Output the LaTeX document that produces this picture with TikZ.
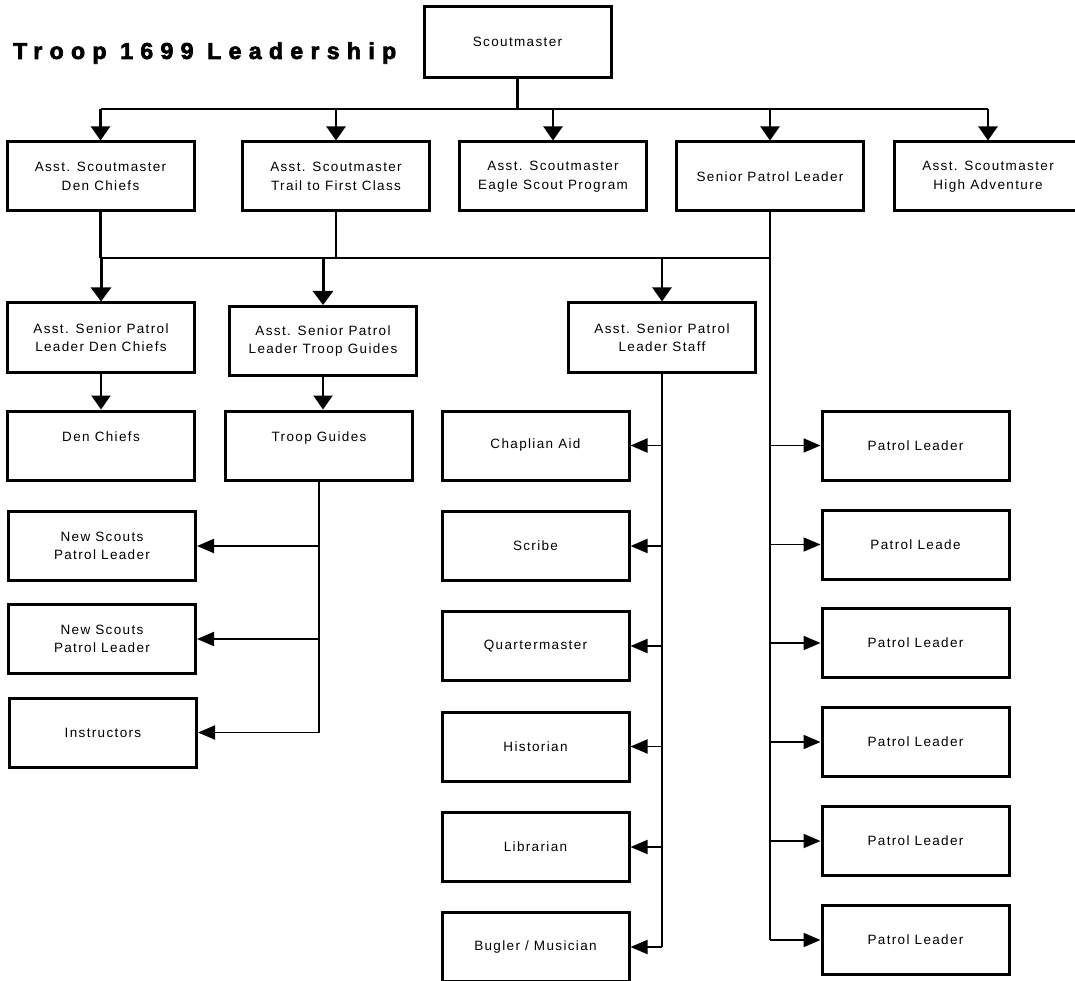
\documentclass[tikz,border=0pt]{standalone}
\usepackage{fontspec}
\setmainfont{Liberation Sans}
\usetikzlibrary{arrows.meta}
\newfontfamily\boxfont[LetterSpace=10]{Liberation Sans}
\newfontfamily\titlefont[LetterSpace=32,BoldFeatures={FakeBold=3}]{Liberation Sans}
\tikzset{
  box/.style={draw=black, line width=3pt, fill=white, minimum width=187pt, minimum height=69pt,
    align=center, inner sep=2pt, font=\boxfont\fontsize{13.5}{18.5}\selectfont},
  conn/.style={draw=black, line width=2.2pt},
  heavy conn/.style={draw=black, line width=2.8pt},
  varr/.style={draw=black, line width=3pt, -{Triangle[length=14pt,width=20pt]}},
  varrthin/.style={draw=black, line width=2.2pt, -{Triangle[length=14pt,width=19pt]}},
  harr/.style={draw=black, line width=1.9pt, -{Triangle[length=17pt,width=14pt]}}
}
\begin{document}
\begin{tikzpicture}[x=1pt,y=-1pt]
\useasboundingbox (0,0) rectangle (1075,981);
\fill[white] (0,0) rectangle (1075,981);

% title
\node[anchor=west, inner sep=0pt, font=\titlefont\bfseries\fontsize{23}{25}\selectfont] (title) at (13,53) {Troop 1699 Leadership};

% top
\node[box, minimum height=71pt] (sm) at (517.5,42) {Scoutmaster};

% row 1
\node[box] (a1) at (100.5,176.5) {Asst. Scoutmaster\\Den Chiefs};
\node[box] (a2) at (336,176.5) {Asst. Scoutmaster\\Trail to First Class};
\node[box] (a3) at (553,176.5) {Asst. Scoutmaster\\Eagle Scout Program};
\node[box] (a4) at (770,176.5) {Senior Patrol Leader};
\node[box] (a5) at (988,176.5) {Asst. Scoutmaster\\High Adventure};

% row 2
\node[box] (b1) at (101,337.5) {Asst. Senior Patrol\\Leader Den Chiefs};
\node[box] (b2) at (323,341) {Asst. Senior Patrol\\Leader Troop Guides};
\node[box] (b3) at (662,337.5) {Asst. Senior Patrol\\Leader Staff};

% row 3
\node[box] (c1) at (101,445.5) {Den Chiefs\\~};
\node[box] (c2) at (319,445.5) {Troop Guides\\~};

% troop guides column
\node[box] (n1) at (102,546) {New Scouts\\Patrol Leader};
\node[box] (n2) at (102,639) {New Scouts\\Patrol Leader};
\node[box] (n3) at (103,732.5) {Instructors};

% staff column
\node[box] (l1) at (535.5,445.5) {Chaplian Aid};
\node[box] (l2) at (535.5,546) {Scribe};
\node[box] (l3) at (535.5,646) {Quartermaster};
\node[box] (l4) at (535.5,746.5) {Historian};
\node[box] (l5) at (535.5,847) {Librarian};
\node[box] (l6) at (535.5,947) {Bugler / Musician};

% patrol leaders
\node[box] (p1) at (915.5,445.5) {Patrol Leader};
\node[box] (p2) at (915.5,544.5) {Patrol Leade};
\node[box] (p3) at (915.5,643) {Patrol Leader};
\node[box] (p4) at (915.5,742) {Patrol Leader};
\node[box] (p5) at (915.5,841) {Patrol Leader};
\node[box] (p6) at (915.5,940) {Patrol Leader};

% connectors
\coordinate (bus1) at (0,109);
\coordinate (bus2) at (0,258);

\draw[heavy conn] (sm.south) -- (sm.south |- bus1);
\draw[conn] (bus1 -| a1.north) -- (bus1 -| a5.north);
\foreach \n in {a1,a2,a3,a4,a5}
  \draw[varrthin] (bus1 -| \n.north) -- (\n.north);

\draw[conn] (a1.south) -- (a1.south |- bus2);
\draw[conn] (a2.south) -- (a2.south |- bus2);
\draw[conn] (a1.south |- bus2) -- (a4.south |- bus2);
\draw[varr] (bus2 -| b1.north) -- (b1.north);
\draw[varr] (bus2 -| b2.north) -- (b2.north);
\draw[varrthin] (bus2 -| b3.north) -- (b3.north);

\draw[heavy conn] (a4.south) -- (a4.south |- p6.west);
\foreach \n in {p1,p2,p3,p4,p5,p6}
  \draw[harr] (a4.south |- \n.west) -- (\n.west);

\draw[varrthin] (b1.south) -- (b1.south |- c1.north);
\draw[varrthin] (b2.south) -- (b2.south |- c2.north);

\draw[conn] (c2.south) -- (c2.south |- n3.east);
\foreach \n in {n1,n2,n3}
  \draw[harr] (c2.south |- \n.east) -- (\n.east);

\draw[conn] (b3.south) -- (b3.south |- l6.east);
\foreach \n in {l1,l2,l3,l4,l5,l6}
  \draw[harr] (b3.south |- \n.east) -- (\n.east);
\end{tikzpicture}
\end{document}
